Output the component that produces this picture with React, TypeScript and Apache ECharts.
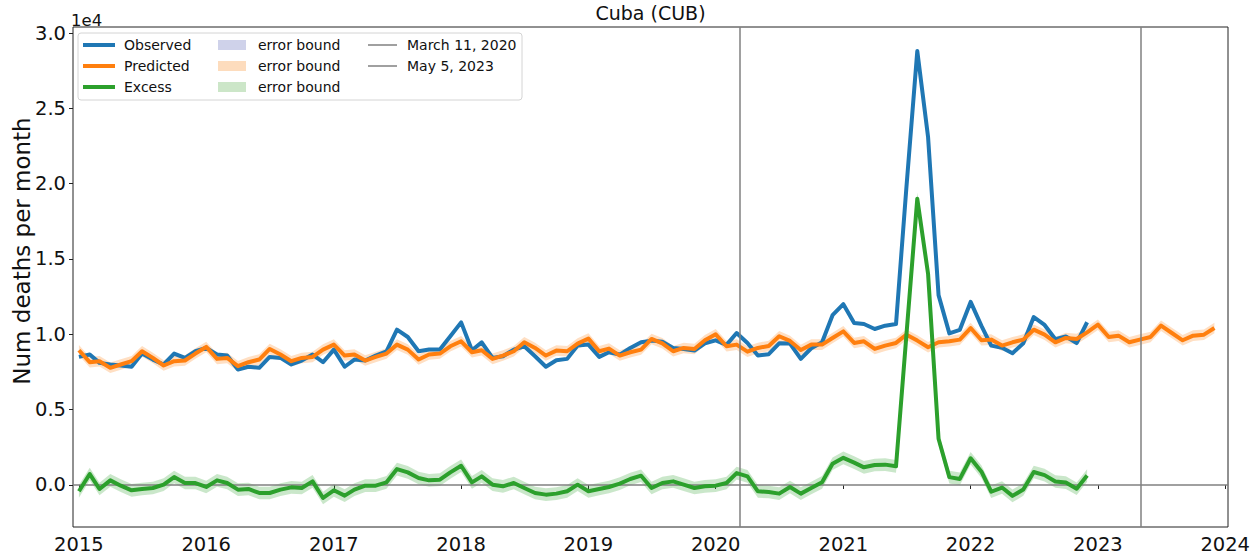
import React, { useEffect, useRef } from "react";
import * as echarts from "echarts";

// ---- data (monthly, starting January 2015) ----
const START_YEAR = 2015;

const observed = [
  8500, 8657, 8105, 8000, 7930, 7847, 8722, 8325, 8000, 8722, 8435, 8876,
  9097, 8656, 8590, 7665, 7847, 7775, 8500, 8435, 8000, 8260, 8656, 8149,
  8986, 7847, 8325, 8260, 8590, 8876, 10308, 9824, 8876, 8986, 8986, 9868,
  10793, 8942, 9471, 8435, 8545, 8986, 9207, 8545, 7847, 8282, 8370, 9251,
  9317, 8500, 8810, 8656, 9097, 9471, 9582, 9515, 9097, 9031, 8920, 9405,
  9600, 9300, 10088, 9420, 8590, 8680, 9400, 9383, 8370, 9075, 9471, 11270,
  12000, 10749, 10683, 10353, 10573, 10683, 19800, 28800, 23080, 12600, 10060, 10300,
  12150, 10560, 9251, 9110, 8750, 9400, 11146, 10620, 9670, 9860, 9420, 10800,
];

const predicted = [
  8941, 8149, 8215, 7775, 7995, 8215, 8876, 8435, 7930, 8215, 8260, 8722,
  9163, 8370, 8435, 7885, 8150, 8325, 9031, 8656, 8215, 8435, 8500, 8986,
  9317, 8590, 8656, 8260, 8500, 8722, 9317, 8986, 8325, 8656, 8722, 9207,
  9538, 8810, 8942, 8370, 8590, 8876, 9471, 9097, 8590, 8920, 8876, 9383,
  9714, 8876, 9053, 8590, 8810, 8986, 9692, 9405, 8876, 9097, 9031, 9604,
  10000, 9207, 9317, 8850, 9097, 9230, 9870, 9560, 8960, 9317, 9317, 9758,
  10198, 9428, 9538, 9031, 9251, 9428, 9978, 9582, 9141, 9471, 9538, 9648,
  10418, 9604, 9648, 9251, 9471, 9648, 10308, 9978, 9471, 9758, 9692, 10132,
  10639, 9824, 9912, 9471, 9648, 9824, 10573, 10088, 9604, 9912, 9978, 10418,
];

const excess = [
  -421, 725, -267, 306, -46, -355, -267, -200, 20, 527, 130, 130,
  -134, 306, 130, -311, -267, -531, -531, -311, -157, -200, 240, -862,
  -355, -708, -311, -46, -46, 174, 1056, 835, 461, 306, 350, 835,
  1277, 174, 569, 20, -90, 130, -200, -531, -642, -575, -421, 20,
  -421, -267, -134, 86, 395, 615, -200, 130, 240, 20, -200, -90,
  -46, 130, 791, 569, -421, -465, -575, -134, -575, -200, 174, 1409,
  1800, 1480, 1171, 1323, 1350, 1237, 10000, 19000, 14000, 3069, 520, 400,
  1772, 880, -450, -170, -725, -300, 860, 655, 230, 160, -250, 630,
];

// half-width of the shaded error bounds
const PREDICTED_ERR = 350;
const EXCESS_ERR = 420;

const yTickValues = [0, 5000, 10000, 15000, 20000, 25000, 30000];
const eventDates: [number, number, number][] = [
  [2020, 2, 11],
  [2023, 4, 5],
];
const eventLabels = ["March 11, 2020", "May 5, 2023"];
const seriesLabels = ["Observed", "Predicted", "Excess"];
const boundLabel = "error bound";
const TITLE = "Cuba (CUB)";
const Y_LABEL = "Num deaths per month";

const C_OBS = "#1f77b4";
const C_PRED = "#ff7f0e";
const C_EXC = "#2ca02c";
const C_EVENT = "#808080";
const FONT = "DejaVu Sans";

const monthTs = (i: number) => new Date(START_YEAR, i, 1).getTime();
const toPairs = (arr: number[]) => arr.map((v, i) => [monthTs(i), v]);

function buildOption() {
  const bandSeries = (
    id: string,
    values: number[],
    err: number,
    color: string
  ) => [
    {
      type: "line",
      id: id + "Low",
      stack: id,
      stackStrategy: "all",
      data: values.map((v, i) => [monthTs(i), v - err]),
      showSymbol: false,
      symbol: "none",
      lineStyle: { opacity: 0, width: 0 },
      silent: true,
      z: 1,
    },
    {
      type: "line",
      id: id + "Band",
      stack: id,
      stackStrategy: "all",
      data: values.map((v, i) => [monthTs(i), 2 * err]),
      showSymbol: false,
      symbol: "none",
      lineStyle: { opacity: 0, width: 0 },
      areaStyle: { color, opacity: 1 },
      silent: true,
      z: 1,
    },
  ];

  const mainLine = (name: string, values: number[], color: string, z: number) => ({
    type: "line",
    name,
    data: toPairs(values),
    showSymbol: false,
    symbol: "none",
    lineStyle: { color, width: 4, join: "round", cap: "butt" },
    itemStyle: { color },
    z,
  });

  const rows = [45, 66, 87];
  const legendX = 78;
  const legendGraphics: any[] = [
    {
      type: "rect",
      shape: { x: legendX, y: 33, width: 444, height: 67, r: 3 },
      style: { fill: "rgba(255,255,255,0.85)", stroke: "#d4d4d4", lineWidth: 1 },
      z: 100,
    },
  ];
  const lineColors = [C_OBS, C_PRED, C_EXC];
  const bandColors = ["#cfd2ea", "#fddcbd", "#cce6c8"];
  rows.forEach((y, k) => {
    legendGraphics.push({
      type: "line",
      shape: { x1: 83, y1: y, x2: 115, y2: y },
      style: { stroke: lineColors[k], lineWidth: 4 },
      z: 101,
    });
    legendGraphics.push({
      type: "text",
      x: 124,
      y,
      style: {
        text: seriesLabels[k],
        font: `14px "${FONT}"`,
        fill: "#111",
        verticalAlign: "middle",
      },
      z: 101,
    });
    legendGraphics.push({
      type: "rect",
      shape: { x: 218, y: y - 5, width: 28, height: 10 },
      style: { fill: bandColors[k] },
      z: 101,
    });
    legendGraphics.push({
      type: "text",
      x: 258,
      y,
      style: {
        text: boundLabel,
        font: `14px "${FONT}"`,
        fill: "#111",
        verticalAlign: "middle",
      },
      z: 101,
    });
    if (k < eventLabels.length) {
      legendGraphics.push({
        type: "line",
        shape: { x1: 368, y1: y, x2: 397, y2: y },
        style: { stroke: C_EVENT, lineWidth: 1.5 },
        z: 101,
      });
      legendGraphics.push({
        type: "text",
        x: 407,
        y,
        style: {
          text: eventLabels[k],
          font: `14px "${FONT}"`,
          fill: "#111",
          verticalAlign: "middle",
        },
        z: 101,
      });
    }
  });

  return {
    animation: false,
    backgroundColor: "#ffffff",
    textStyle: { fontFamily: FONT },
    grid: {
      left: 73,
      right: 31,
      top: 27,
      bottom: 31,
      show: true,
      borderColor: "#222",
      borderWidth: 1,
      backgroundColor: "transparent",
      containLabel: false,
    },
    xAxis: {
      type: "time",
      min: new Date(2014, 11, 15).getTime(),
      max: new Date(2024, 0, 9).getTime(),
      splitNumber: 9,
      minInterval: 365 * 24 * 3600 * 1000,
      maxInterval: 380 * 24 * 3600 * 1000,
      axisLine: { show: false },
      axisTick: { show: true, length: 4, lineStyle: { color: "#222", width: 1 } },
      splitLine: { show: false },
      minorTick: { show: false },
      axisLabel: {
        formatter: (v: number) => String(new Date(v).getFullYear()),
        fontSize: 19.5,
        fontFamily: FONT,
        color: "#111",
        margin: 7,
        hideOverlap: false,
        showMinLabel: false,
        showMaxLabel: false,
      },
    },
    yAxis: {
      type: "value",
      min: -2790,
      max: 30400,
      axisLine: { show: false },
      splitLine: { show: false },
      axisTick: {
        show: true,
        length: 4,
        customValues: yTickValues,
        lineStyle: { color: "#222", width: 1 },
      },
      axisLabel: {
        customValues: yTickValues,
        formatter: (v: number) => (v / 10000).toFixed(1),
        fontSize: 19.5,
        fontFamily: FONT,
        color: "#111",
        margin: 7,
      },
    },
    graphic: [
      {
        type: "text",
        x: 650.5,
        y: 13,
        style: {
          text: TITLE,
          font: `19px "${FONT}"`,
          fill: "#111",
          align: "center",
          verticalAlign: "middle",
        },
      },
      {
        type: "text",
        x: 71,
        y: 20,
        style: {
          text: "1e4",
          font: `16.5px "${FONT}"`,
          fill: "#111",
          align: "left",
          verticalAlign: "middle",
        },
      },
      {
        type: "text",
        x: 22,
        y: 251,
        rotation: Math.PI / 2,
        style: {
          text: Y_LABEL,
          font: `23px "${FONT}"`,
          fill: "#111",
          align: "center",
          verticalAlign: "middle",
        },
      },
      ...legendGraphics,
    ],
    series: [
      ...bandSeries("pred", predicted, PREDICTED_ERR, "rgba(255,127,14,0.25)"),
      ...bandSeries("exc", excess, EXCESS_ERR, "rgba(44,160,44,0.25)"),
      mainLine(seriesLabels[0], observed, C_OBS, 3),
      mainLine(seriesLabels[1], predicted, C_PRED, 4),
      {
        ...mainLine(seriesLabels[2], excess, C_EXC, 5),
        markLine: {
          silent: true,
          symbol: ["none", "none"],
          label: { show: false },
          lineStyle: { color: C_EVENT, width: 1.5, type: "solid" },
          data: [
            ...eventDates.map((d) => ({
              xAxis: new Date(d[0], d[1], d[2]).getTime(),
            })),
            { yAxis: 0 },
          ],
        },
      },
    ],
  };
}

export default function App() {
  const ref = useRef<HTMLDivElement>(null);
  useEffect(() => {
    if (!ref.current) return;
    const chart = echarts.init(ref.current, undefined, { renderer: "svg" });
    chart.setOption(buildOption() as any);
    return () => chart.dispose();
  }, []);
  return (
    <div
      ref={ref}
      style={{
        position: "fixed",
        left: 0,
        top: 0,
        width: 1259,
        height: 558,
        background: "#fff",
      }}
    />
  );
}
